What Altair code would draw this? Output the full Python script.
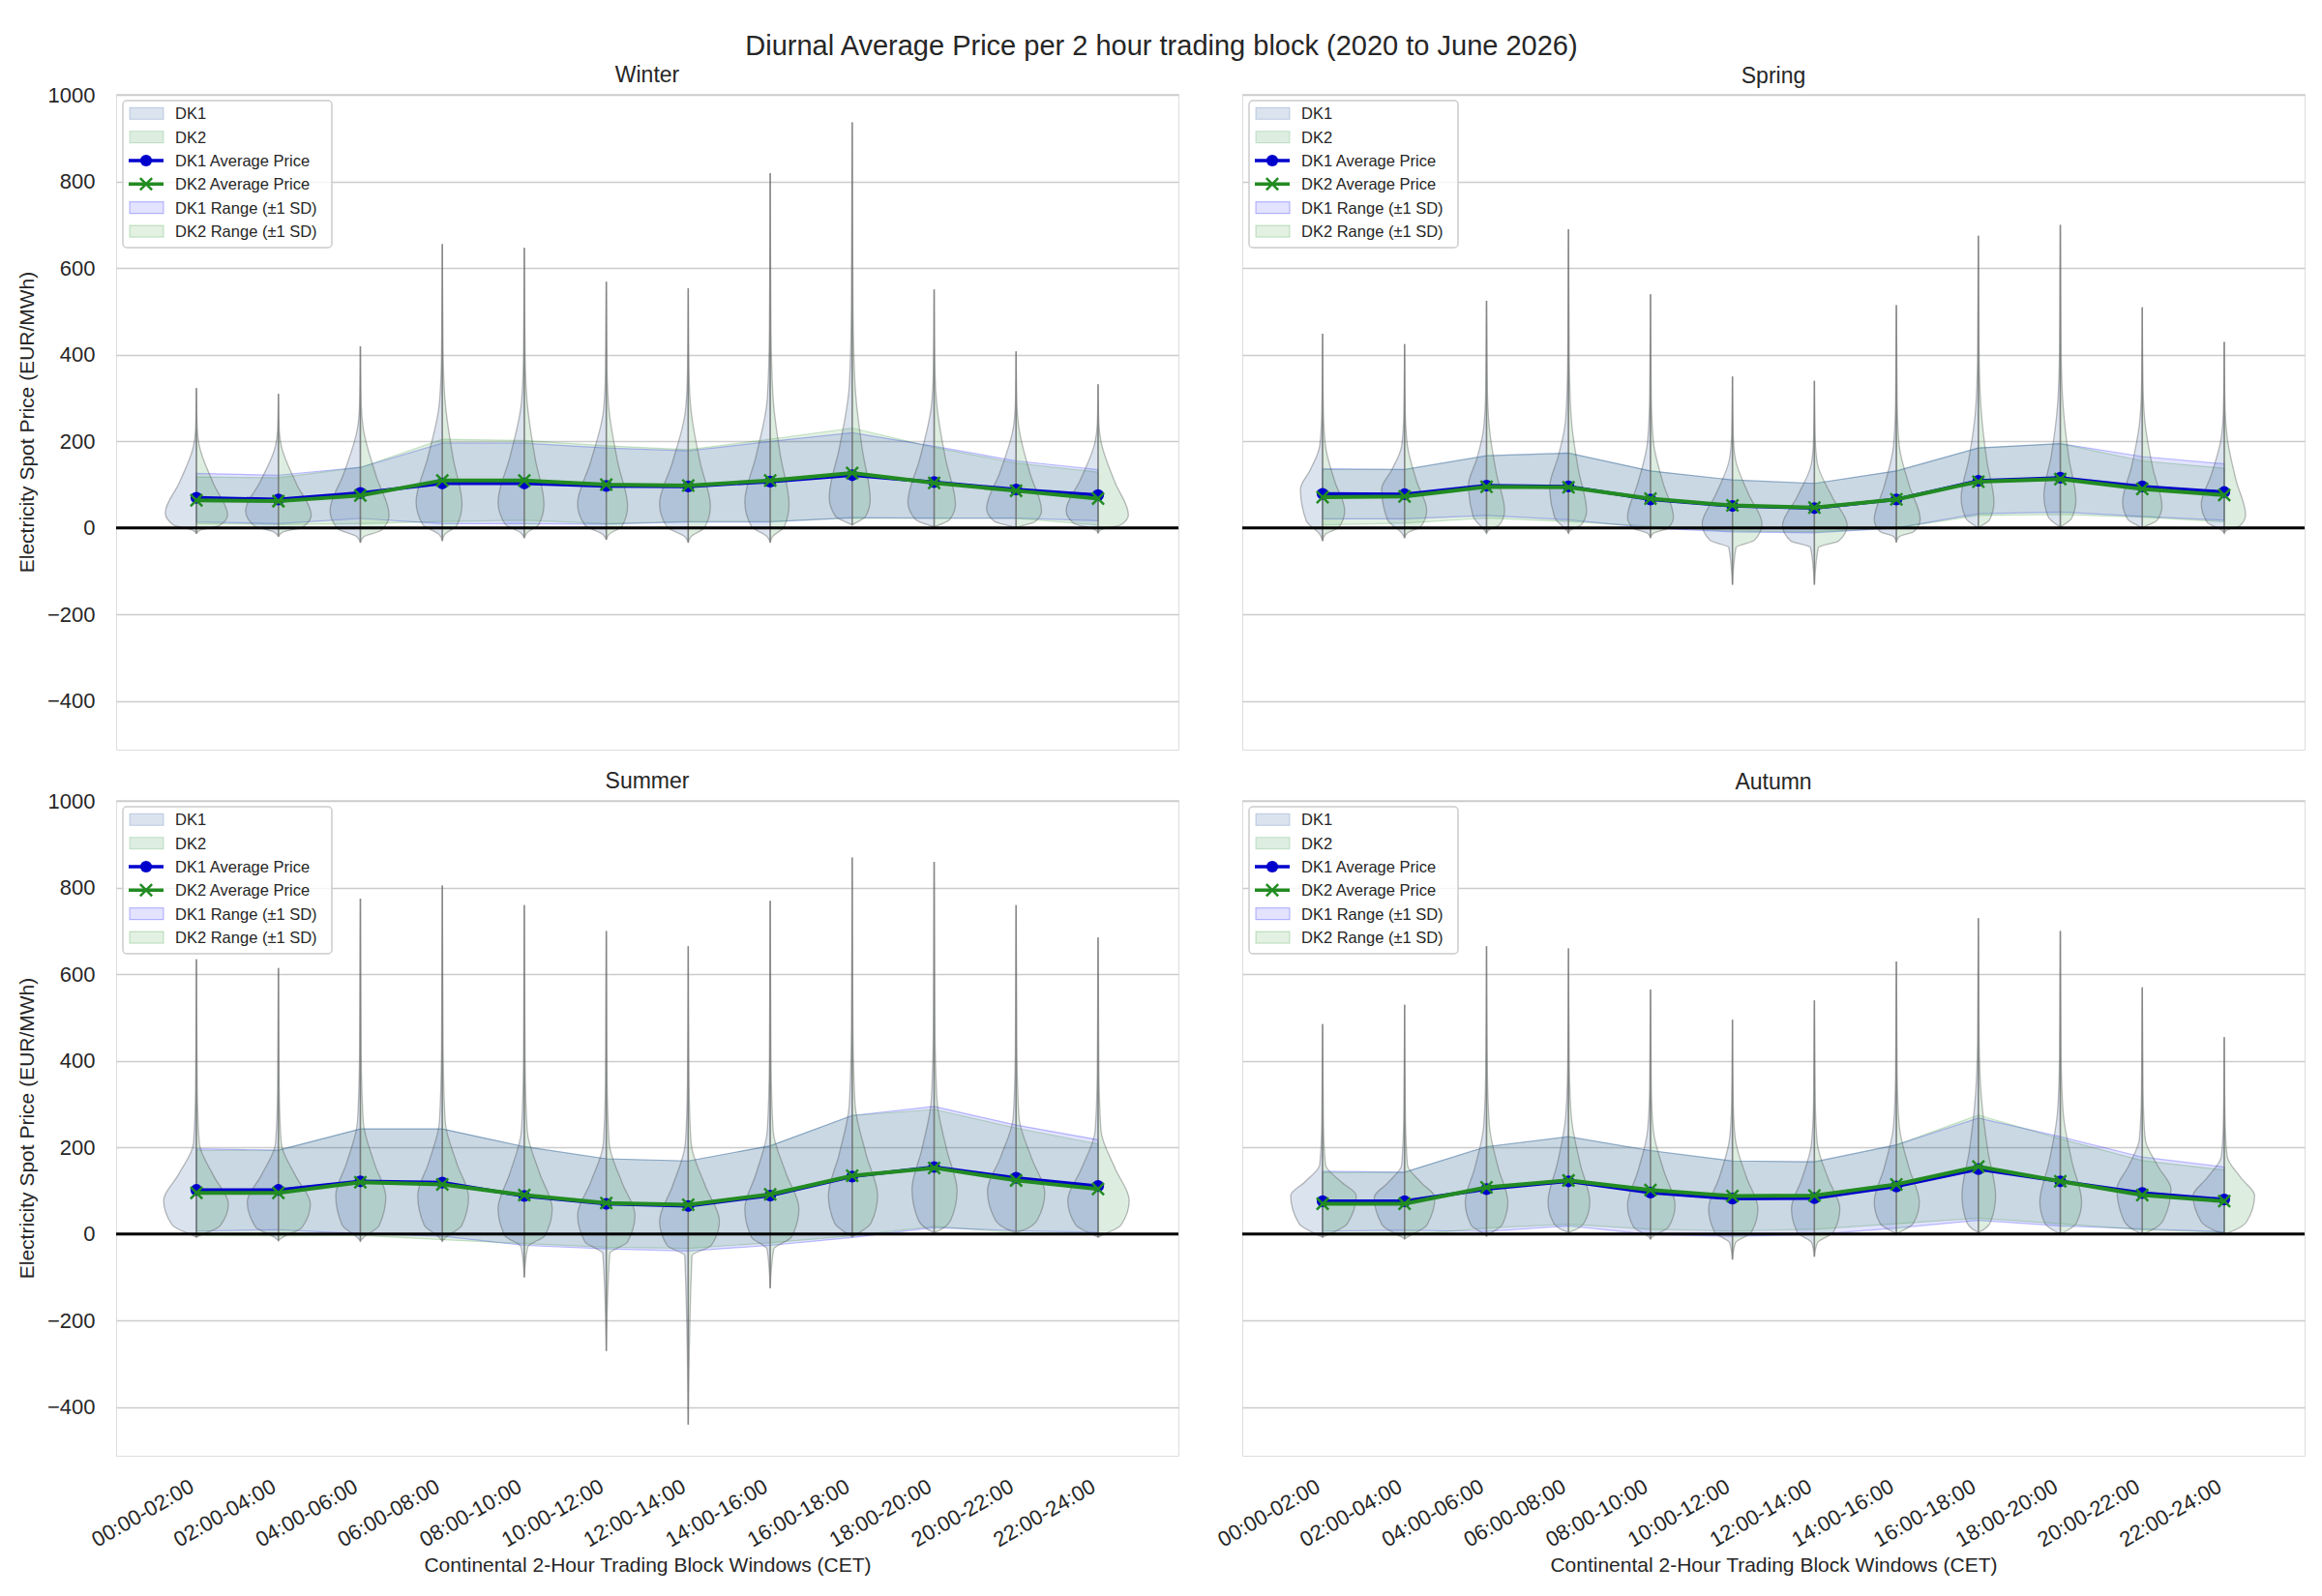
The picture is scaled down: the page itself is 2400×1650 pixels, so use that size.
import altair as alt
import pandas as pd

FONT = "Liberation Sans"
TXT = "#262626"

blocks = ["00:00-02:00", "02:00-04:00", "04:00-06:00", "06:00-08:00",
          "08:00-10:00", "10:00-12:00", "12:00-14:00", "14:00-16:00",
          "16:00-18:00", "18:00-20:00", "20:00-22:00", "22:00-24:00"]
seasons = ["Winter", "Spring", "Summer", "Autumn"]
legend_labels = ["DK1", "DK2", "DK1 Average Price", "DK2 Average Price",
                 "DK1 Range (\u00b11 SD)", "DK2 Range (\u00b11 SD)"]

# ---- Winter ----
winter_dk1_mean = [70, 66, 81, 103, 103, 97, 96, 107, 122, 106, 89, 76]
winter_dk1_sd = [56, 56, 59, 93, 93, 88, 82, 93, 98, 83, 66, 59]
winter_dk2_mean = [64, 62, 75, 110, 110, 100, 98, 110, 127, 104, 86, 68]
winter_dk2_sd = [54, 54, 65, 95, 92, 90, 83, 95, 104, 82, 64, 61]
winter_min = [-13, -20, -34, -30, -23, -27, -34, -34, 7, 3, 0, -12]
winter_max = [323, 310, 420, 656, 647, 569, 554, 820, 937, 551, 408, 332]
winter_base = [-5, -10, -20, -15, -12, -15, -20, -20, 10, 5, 3, -3]
winter_neck = [190, 190, 230, 290, 290, 270, 270, 300, 330, 280, 230, 200]
winter_dk1_peak = [35, 40, 40, 60, 60, 55, 55, 60, 70, 60, 45, 40]
winter_dk2_peak = [30, 30, 30, 55, 55, 50, 50, 55, 65, 55, 40, 30]
winter_dk1_w = [0.38, 0.40, 0.37, 0.32, 0.32, 0.35, 0.35, 0.31, 0.28, 0.32, 0.36, 0.39]
winter_dk2_w = [0.38, 0.40, 0.35, 0.24, 0.24, 0.26, 0.27, 0.23, 0.22, 0.26, 0.31, 0.37]

# ---- Spring ----
spring_dk1_mean = [79, 78, 98, 96, 66, 51, 46, 66, 109, 116, 96, 83]
spring_dk1_sd = [58, 57, 69, 77, 66, 60, 57, 66, 76, 79, 69, 65]
spring_dk2_mean = [71, 73, 95, 94, 68, 52, 47, 66, 107, 113, 90, 76]
spring_dk2_sd = [64, 62, 72, 79, 64, 59, 56, 66, 78, 82, 65, 62]
spring_min = [-30, -23, -12, -12, -23, -131, -131, -33, 0, 2, 0, -12]
spring_max = [449, 425, 525, 690, 540, 350, 340, 515, 675, 700, 510, 430]
spring_base = [-15, -12, -5, -5, -12, -45, -45, -20, 3, 5, 3, -5]
spring_neck = [190, 190, 230, 250, 200, 160, 150, 190, 270, 280, 240, 210]
spring_dk1_peak = [90, 90, 100, 95, 25, 10, 6, 20, 70, 75, 60, 55]
spring_dk2_peak = [40, 40, 40, 40, 25, 10, 6, 20, 60, 65, 50, 30]
spring_dk1_w = [0.27, 0.28, 0.22, 0.23, 0.28, 0.37, 0.39, 0.27, 0.21, 0.20, 0.24, 0.28]
spring_dk2_w = [0.27, 0.27, 0.22, 0.22, 0.28, 0.36, 0.40, 0.29, 0.19, 0.19, 0.24, 0.26]

# ---- Summer ----
summer_dk1_mean = [102, 102, 122, 119, 88, 70, 65, 89, 133, 155, 130, 111]
summer_dk1_sd = [95, 92, 121, 124, 114, 104, 104, 115, 141, 140, 122, 107]
summer_dk2_mean = [95, 95, 120, 115, 90, 72, 68, 92, 135, 153, 124, 104]
summer_dk2_sd = [98, 99, 123, 128, 112, 102, 101, 112, 139, 135, 121, 104]
summer_min = [-7, -15, -16, -16, -100, -270, -440, -125, -6, 4, 4, -7]
summer_max = [635, 615, 775, 805, 760, 700, 665, 770, 870, 860, 760, 685]
summer_base = [-3, -8, -8, -8, -30, -45, -50, -35, -2, 6, 6, -3]
summer_neck = [210, 210, 260, 260, 240, 210, 210, 240, 300, 310, 270, 240]
summer_dk1_peak = [78, 75, 89, 89, 59, 44, 30, 59, 89, 104, 100, 78]
summer_dk2_peak = [70, 70, 85, 85, 59, 44, 30, 59, 89, 100, 95, 78]
summer_dk1_w = [0.40, 0.38, 0.30, 0.30, 0.32, 0.35, 0.35, 0.31, 0.29, 0.27, 0.35, 0.37]
summer_dk2_w = [0.39, 0.39, 0.31, 0.32, 0.34, 0.35, 0.38, 0.35, 0.31, 0.28, 0.35, 0.38]

# ---- Autumn ----
autumn_dk1_mean = [76, 76, 104, 122, 96, 82, 83, 110, 150, 122, 95, 80]
autumn_dk1_sd = [69, 67, 98, 103, 97, 87, 84, 96, 118, 103, 83, 75]
autumn_dk2_mean = [70, 70, 108, 124, 102, 88, 89, 115, 156, 122, 90, 76]
autumn_dk2_sd = [72, 73, 94, 101, 91, 81, 78, 91, 119, 98, 80, 72]
autumn_min = [-7, -11, -4, 4, -11, -59, -52, 1, 4, 0, 0, 0]
autumn_max = [485, 530, 665, 660, 565, 495, 540, 630, 730, 700, 570, 455]
autumn_base = [-3, -6, 0, 6, -5, -20, -20, 4, 6, 3, 3, 3]
autumn_neck = [160, 160, 250, 270, 240, 220, 210, 250, 320, 280, 220, 180]
autumn_dk1_peak = [89, 85, 74, 74, 67, 59, 59, 74, 89, 74, 104, 89]
autumn_dk2_peak = [89, 85, 74, 74, 67, 59, 59, 74, 89, 74, 104, 89]
autumn_dk1_w = [0.39, 0.37, 0.26, 0.25, 0.28, 0.29, 0.28, 0.27, 0.20, 0.25, 0.31, 0.38]
autumn_dk2_w = [0.41, 0.37, 0.26, 0.26, 0.30, 0.31, 0.31, 0.28, 0.21, 0.26, 0.35, 0.37]

season_data = {
    "Winter": dict(dk1_mean=winter_dk1_mean, dk1_sd=winter_dk1_sd, dk2_mean=winter_dk2_mean,
                   dk2_sd=winter_dk2_sd, vmin=winter_min, vmax=winter_max, base=winter_base,
                   neck=winter_neck, dk1_peak=winter_dk1_peak, dk2_peak=winter_dk2_peak,
                   dk1_w=winter_dk1_w, dk2_w=winter_dk2_w),
    "Spring": dict(dk1_mean=spring_dk1_mean, dk1_sd=spring_dk1_sd, dk2_mean=spring_dk2_mean,
                   dk2_sd=spring_dk2_sd, vmin=spring_min, vmax=spring_max, base=spring_base,
                   neck=spring_neck, dk1_peak=spring_dk1_peak, dk2_peak=spring_dk2_peak,
                   dk1_w=spring_dk1_w, dk2_w=spring_dk2_w),
    "Summer": dict(dk1_mean=summer_dk1_mean, dk1_sd=summer_dk1_sd, dk2_mean=summer_dk2_mean,
                   dk2_sd=summer_dk2_sd, vmin=summer_min, vmax=summer_max, base=summer_base,
                   neck=summer_neck, dk1_peak=summer_dk1_peak, dk2_peak=summer_dk2_peak,
                   dk1_w=summer_dk1_w, dk2_w=summer_dk2_w),
    "Autumn": dict(dk1_mean=autumn_dk1_mean, dk1_sd=autumn_dk1_sd, dk2_mean=autumn_dk2_mean,
                   dk2_sd=autumn_dk2_sd, vmin=autumn_min, vmax=autumn_max, base=autumn_base,
                   neck=autumn_neck, dk1_peak=autumn_dk1_peak, dk2_peak=autumn_dk2_peak,
                   dk1_w=autumn_dk1_w, dk2_w=autumn_dk2_w),
}

C_DK1_V = "#4c72b0"
C_DK2_V = "#55a868"
C_DK1_L = "#0000cd"
C_DK2_L = "#228b22"
GRID = "#cccccc"

XS = alt.Scale(domain=[-0.98, 11.98], nice=False, zero=False)
YS = alt.Scale(domain=[-512, 1003], nice=False, zero=False)
PW, PH = 1098, 678

label_array = "[" + ",".join("'%s'" % b for b in blocks) + "]"


def stats_frame(d):
    rows = []
    for i in range(len(blocks)):
        rows.append(dict(idx=i,
                         dk1_mean=d["dk1_mean"][i],
                         dk1_lo=d["dk1_mean"][i] - d["dk1_sd"][i],
                         dk1_hi=d["dk1_mean"][i] + d["dk1_sd"][i],
                         dk2_mean=d["dk2_mean"][i],
                         dk2_lo=d["dk2_mean"][i] - d["dk2_sd"][i],
                         dk2_hi=d["dk2_mean"][i] + d["dk2_sd"][i],
                         vmin=d["vmin"][i], vmax=d["vmax"][i]))
    return pd.DataFrame(rows)


def violin_frame(d, zone):
    rows = []
    key = zone.lower()
    for i in range(len(blocks)):
        vmin, vmax = d["vmin"][i], d["vmax"][i]
        base, neck = d["base"][i], d["neck"][i]
        peak, w = d[key + "_peak"][i], d[key + "_w"][i]
        prof = [(vmin, 0.0), (base, 0.12 * w), (base + 0.3 * (peak - base), 0.74 * w),
                (peak, w), (peak + 0.45 * (neck - peak), 0.55 * w), (neck, 0.035),
                (neck + 0.3 * (vmax - neck), 0.01), (vmax, 0.0)]
        for yv, hw in prof:
            if zone == "DK1":
                xa, xb = i - hw, i
            else:
                xa, xb = i, i + hw
            rows.append(dict(vid="%s%d" % (zone, i), y=yv, xa=xa, xb=xb))
    return pd.DataFrame(rows).sort_values(["vid", "y"]).reset_index(drop=True)


def panel(season, left, bottom):
    d = season_data[season]
    st = stats_frame(d)
    if bottom:
        xaxis = alt.Axis(values=list(range(12)), labelExpr=label_array + "[round(datum.value)]",
                         labelAngle=-30, labelAlign="right", labelBaseline="top",
                         labelOverlap=False, labelFontSize=22, labelFont=FONT, labelColor=TXT,
                         labelPadding=21, labelOffset=-10, ticks=False, domain=False,
                         grid=False,
                         title="Continental 2-Hour Trading Block Windows (CET)",
                         titleFontSize=21, titleFont=FONT, titleFontWeight="normal",
                         titleColor=TXT, titlePadding=5)
    else:
        xaxis = None
    yvals = [-400, -200, 0, 200, 400, 600, 800, 1000]
    if left:
        yaxis = alt.Axis(values=yvals, format="d",
                         labelExpr="replace(datum.label, '-', '\u2212')",
                         labelFontSize=22, labelFont=FONT, labelColor=TXT, labelPadding=22,
                         ticks=False, domain=False, grid=True, gridColor=GRID, gridWidth=1.6,
                         title="Electricity Spot Price (EUR/MWh)", titleFontSize=21,
                         titleFont=FONT, titleFontWeight="normal", titleColor=TXT,
                         titlePadding=10)
    else:
        yaxis = alt.Axis(values=yvals, labels=False, ticks=False, domain=False, grid=True,
                         gridColor=GRID, gridWidth=1.6, title=None)

    def X(f):
        return alt.X(f, scale=XS, axis=xaxis, stack=None)

    def Y(f):
        return alt.Y(f, scale=YS, axis=yaxis, stack=None)

    layers = []
    # SD bands
    layers.append(alt.Chart(st).mark_area(fill="#0000ff", fillOpacity=0.11, stroke="#0000ff",
                                          strokeOpacity=0.25, strokeWidth=1.2)
                  .encode(x=X("idx:Q"), y=Y("dk1_lo:Q"), y2="dk1_hi:Q"))
    layers.append(alt.Chart(st).mark_area(fill="#008000", fillOpacity=0.11, stroke="#008000",
                                          strokeOpacity=0.2, strokeWidth=1.2)
                  .encode(x=X("idx:Q"), y=Y("dk2_lo:Q"), y2="dk2_hi:Q"))
    # split violins (DK1 left half, DK2 right half)
    for zone, col in (("DK1", C_DK1_V), ("DK2", C_DK2_V)):
        vf = violin_frame(d, zone)
        layers.append(alt.Chart(vf).mark_area(orient="horizontal", interpolate="monotone",
                                              fill=col, fillOpacity=0.2, stroke="#505050",
                                              strokeOpacity=0.38, strokeWidth=1.3)
                      .encode(y=Y("y:Q"), x=X("xa:Q"), x2="xb:Q", detail="vid:N"))
    # violin centre/tail lines
    layers.append(alt.Chart(st).mark_rule(color="#7a7a7a", strokeWidth=1.6, opacity=0.5)
                  .encode(x=X("idx:Q"), y=Y("vmin:Q"), y2="vmax:Q"))
    # zero line
    layers.append(alt.Chart(pd.DataFrame({"zero": [0]})).mark_rule(color="black", strokeWidth=3)
                  .encode(y=Y("zero:Q")))
    # average lines
    layers.append(alt.Chart(st).mark_line(color=C_DK1_L, strokeWidth=3.5)
                  .encode(x=X("idx:Q"), y=Y("dk1_mean:Q")))
    layers.append(alt.Chart(st).mark_point(shape="circle", filled=True, size=150, color=C_DK1_L,
                                           opacity=1)
                  .encode(x=X("idx:Q"), y=Y("dk1_mean:Q")))
    layers.append(alt.Chart(st).mark_line(color=C_DK2_L, strokeWidth=4)
                  .encode(x=X("idx:Q"), y=Y("dk2_mean:Q")))
    layers.append(alt.Chart(st).mark_point(shape="M-1,-1L1,1M-1,1L1,-1", filled=False, size=150,
                                           color=C_DK2_L, strokeWidth=2.5, opacity=1)
                  .encode(x=X("idx:Q"), y=Y("dk2_mean:Q")))

    # manual legend (inside the panel, upper left)
    one = pd.DataFrame({"a": [0]})
    layers.append(alt.Chart(one).mark_rect(fill="white", fillOpacity=0.8, stroke=GRID,
                                           strokeWidth=1.5, cornerRadius=4)
                  .encode(x=alt.value(7), x2=alt.value(223), y=alt.value(7), y2=alt.value(159)))
    step = 24.35
    y0 = 20.3
    patch_styles = {
        0: dict(fill=C_DK1_V, fillOpacity=0.2, stroke=C_DK1_V, strokeOpacity=0.25),
        1: dict(fill=C_DK2_V, fillOpacity=0.2, stroke=C_DK2_V, strokeOpacity=0.25),
        4: dict(fill="#0000ff", fillOpacity=0.11, stroke="#0000ff", strokeOpacity=0.25),
        5: dict(fill="#008000", fillOpacity=0.11, stroke="#008000", strokeOpacity=0.2),
    }
    for j, lab in enumerate(legend_labels):
        yc = y0 + j * step
        if j in patch_styles:
            layers.append(alt.Chart(one).mark_rect(strokeWidth=1.2, **patch_styles[j])
                          .encode(x=alt.value(14), x2=alt.value(49), y=alt.value(yc - 6),
                                  y2=alt.value(yc + 6)))
        else:
            col = C_DK1_L if j == 2 else C_DK2_L
            layers.append(alt.Chart(one).mark_rule(color=col, strokeWidth=3.5)
                          .encode(x=alt.value(13), x2=alt.value(49), y=alt.value(yc)))
            if j == 2:
                layers.append(alt.Chart(one).mark_point(shape="circle", filled=True, size=150,
                                                        color=col, opacity=1)
                              .encode(x=alt.value(31), y=alt.value(yc)))
            else:
                layers.append(alt.Chart(one).mark_point(shape="M-1,-1L1,1M-1,1L1,-1",
                                                        filled=False, size=150, color=col,
                                                        strokeWidth=2.5, opacity=1)
                              .encode(x=alt.value(31), y=alt.value(yc)))
        layers.append(alt.Chart(one).mark_text(align="left", baseline="middle", fontSize=16.5,
                                               font=FONT, color=TXT)
                      .encode(x=alt.value(61), y=alt.value(yc + 1), text=alt.value(lab)))

    return alt.layer(*layers).properties(
        width=PW, height=PH,
        title=alt.TitleParams(season, fontSize=23, font=FONT, fontWeight="normal", color=TXT,
                              anchor="middle", frame="group", offset=-3 if left else 6))


row1 = alt.hconcat(panel("Winter", True, False), panel("Spring", False, False),
                   spacing=66, bounds="flush")
row2 = alt.hconcat(panel("Summer", True, True), panel("Autumn", False, True),
                   spacing=66, bounds="flush")

chart = alt.vconcat(row1, row2, spacing=20).properties(
    title=alt.TitleParams("Diurnal Average Price per 2 hour trading block (2020 to June 2026)",
                          fontSize=29, font=FONT, fontWeight="normal", color=TXT,
                          anchor="middle", offset=4)
).configure_view(stroke=GRID, strokeWidth=2).configure(
    font=FONT, padding={"left": 8, "top": 25, "right": 5, "bottom": 5})

chart.save("out.html", embed_options={"renderer": "svg", "actions": False})
